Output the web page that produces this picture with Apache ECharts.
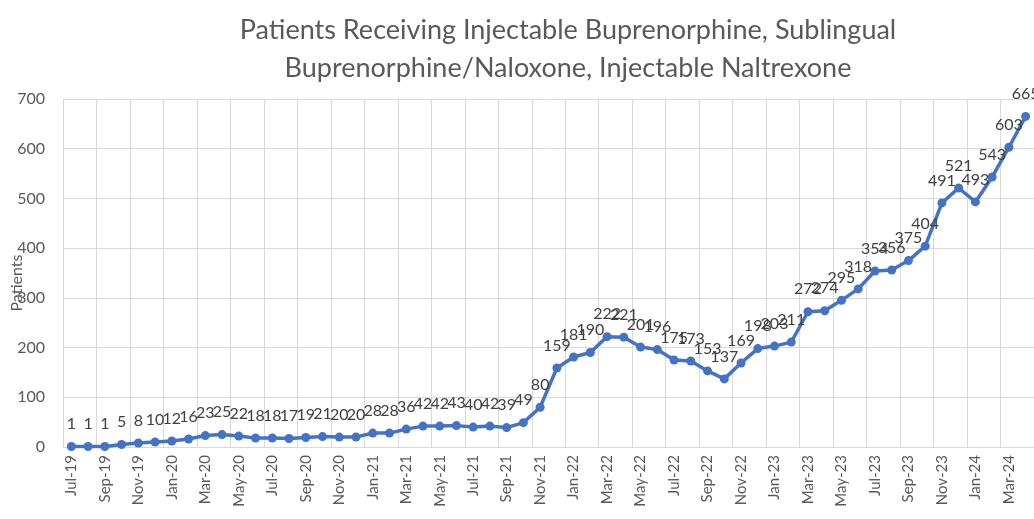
<!DOCTYPE html>
<html>
<head>
<meta charset="utf-8">
<script src="https://cdn.jsdelivr.net/npm/echarts@6/dist/echarts.min.js"></script>
<style>
html,body{margin:0;padding:0;background:#fff;}
#chart{width:1034px;height:519px;}
</style>
</head>
<body>
<div id="chart"></div>
<script>
const titleLines = ["Patients Receiving Injectable Buprenorphine, Sublingual", "Buprenorphine/Naloxone, Injectable Naltrexone"];
const yAxisName = "Patients";
const categories = [
  "Jul-19","Aug-19","Sep-19","Oct-19","Nov-19","Dec-19",
  "Jan-20","Feb-20","Mar-20","Apr-20","May-20","Jun-20","Jul-20","Aug-20","Sep-20","Oct-20","Nov-20","Dec-20",
  "Jan-21","Feb-21","Mar-21","Apr-21","May-21","Jun-21","Jul-21","Aug-21","Sep-21","Oct-21","Nov-21","Dec-21",
  "Jan-22","Feb-22","Mar-22","Apr-22","May-22","Jun-22","Jul-22","Aug-22","Sep-22","Oct-22","Nov-22","Dec-22",
  "Jan-23","Feb-23","Mar-23","Apr-23","May-23","Jun-23","Jul-23","Aug-23","Sep-23","Oct-23","Nov-23","Dec-23",
  "Jan-24","Feb-24","Mar-24","Apr-24"
];
const patients = [
  1,1,1,5,8,10,
  12,16,23,25,22,18,18,17,19,21,20,20,
  28,28,36,42,42,43,40,42,39,49,80,159,
  181,190,222,221,201,196,175,173,153,137,169,198,
  203,211,272,274,295,318,354,356,375,404,491,521,
  493,543,603,665
];
const yTicks = {min: 0, max: 700, interval: 100};

const chart = echarts.init(document.getElementById('chart'));
const textColor = '#595959';
const fontFam = 'Lato, "Open Sans", sans-serif';
chart.setOption({
  animation: false,
  backgroundColor: '#fff',
  title: {
    text: titleLines.join('\n'),
    left: 563, top: 6,
    textAlign: 'center',
    textStyle: {color: textColor, fontSize: 27, fontWeight: 'normal', fontFamily: fontFam, lineHeight: 38}
  },
  grid: {left: 63, right: 0, top: 99, bottom: 72, containLabel: false, outerBoundsMode: 'none'},
  xAxis: {
    type: 'category',
    data: categories,
    boundaryGap: true,
    axisLine: {lineStyle: {color: '#d9d9d9'}},
    axisTick: {show: false},
    axisLabel: {interval: 1, rotate: 90, color: textColor, fontSize: 15, fontFamily: fontFam, margin: 8},
    splitLine: {show: true, interval: 1, lineStyle: {color: '#d9d9d9', width: 1}}
  },
  yAxis: {
    type: 'value',
    min: yTicks.min, max: yTicks.max, interval: yTicks.interval,
    name: yAxisName,
    nameLocation: 'middle',
    nameGap: 38,
    nameMoveOverlap: false,
    nameTextStyle: {color: textColor, fontSize: 16, fontFamily: fontFam, padding: [0, 20, 0, 0]},
    axisLine: {show: false},
    axisTick: {show: false},
    axisLabel: {color: textColor, fontSize: 16, fontFamily: fontFam, margin: 18},
    splitLine: {lineStyle: {color: '#d9d9d9', width: 1}}
  },
  series: [{
    type: 'line',
    data: patients,
    symbol: 'circle',
    symbolSize: 9,
    lineStyle: {color: '#4472C4', width: 3.5},
    itemStyle: {color: '#4472C4'},
    label: {show: true, position: 'top', distance: 10, color: '#404040', fontSize: 16, fontFamily: fontFam},
    labelLayout: {hideOverlap: false}
  }]
});
</script>
</body>
</html>
